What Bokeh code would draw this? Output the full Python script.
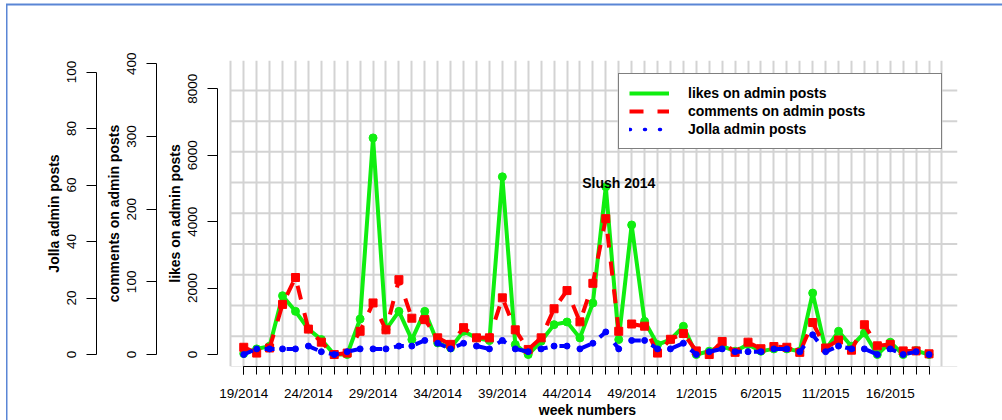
from bokeh.plotting import figure
from bokeh.models import (Range1d, LinearAxis, FixedTicker, Legend, LegendItem, Label)
from bokeh.embed import file_html
from bokeh.resources import INLINE

# ---------------- data ----------------
weeks = ["19/2014", "20/2014", "21/2014", "22/2014", "23/2014", "24/2014", "25/2014", "26/2014",
         "27/2014", "28/2014", "29/2014", "30/2014", "31/2014", "32/2014", "33/2014", "34/2014",
         "35/2014", "36/2014", "37/2014", "38/2014", "39/2014", "40/2014", "41/2014", "42/2014",
         "43/2014", "44/2014", "45/2014", "46/2014", "47/2014", "48/2014", "49/2014", "50/2014",
         "51/2014", "52/2014", "53/2014", "1/2015", "2/2015", "3/2015", "4/2015", "5/2015",
         "6/2015", "7/2015", "8/2015", "9/2015", "10/2015", "11/2015", "12/2015", "13/2015",
         "14/2015", "15/2015", "16/2015", "17/2015", "18/2015", "19/2015"]

likes = [30, 170, 250, 1770, 1300, 770, 450, 0, 0, 1070,
         6520, 750, 1300, 450, 1300, 350, 200, 700, 500, 420,
         5350, 300, 0, 400, 900, 980, 500, 1550, 5050, 450,
         3900, 1000, 300, 450, 850, 0, 100, 250, 100, 300,
         100, 170, 170, 100, 1850, 150, 700, 250, 650, 0,
         370, 0, 120, 0]

comments = [10, 2, 9, 69, 106, 35, 17, 0, 2, 32,
            71, 34, 103, 50, 48, 23, 14, 37, 23, 23,
            78, 34, 7, 23, 63, 88, 45, 98, 187, 32,
            42, 39, 2, 21, 29, 5, 0, 18, 3, 17,
            8, 11, 10, 3, 44, 9, 20, 6, 41, 12,
            14, 5, 5, 1]

posts = [0, 2, 2, 2, 2, 3, 1, 0, 1, 2,
         2, 2, 3, 3, 5, 4, 2, 4, 3, 2,
         5, 2, 1, 2, 3, 3, 2, 4, 8, 2,
         5, 5, 2, 2, 4, 0, 1, 2, 1, 1,
         1, 2, 2, 1, 7, 1, 3, 2, 2, 0,
         2, 0, 1, 0]

tick_labels = ["19/2014", "24/2014", "29/2014", "34/2014", "39/2014", "44/2014",
               "49/2014", "1/2015", "6/2015", "11/2015", "16/2015"]
likes_ticks = [0, 2000, 4000, 6000, 8000]
comments_ticks = [0, 100, 200, 300, 400]
posts_ticks = [0, 20, 40, 60, 80, 100]
series_names = ["likes on admin posts", "comments on admin posts", "Jolla admin posts"]
annotation_text = "Slush 2014"
annotation_week = "48/2014"
annotation_likes = 5150

# ---------------- layout / style ----------------
FONT = "Liberation Sans"
GREEN, RED, BLUE = "#10ee10", "#ff0000", "#0000ff"
GRID = "#d3d3d3"
FRAME_BLUE = "#5a86d5"

idx = list(range(1, len(weeks) + 1))
tick_idx = [weeks.index(t) + 1 for t in tick_labels]

X0, X1 = -1.03, 56.2
p = figure(width=1002, height=420, output_backend="svg", toolbar_location=None,
           x_range=Range1d(X0, X1), y_range=Range1d(-360, 8850),
           min_border_left=217, min_border_right=45, min_border_top=60, min_border_bottom=53)
p.extra_y_ranges = {"comments": Range1d(-16.46, 404.6), "posts": Range1d(-4.235, 104.1),
                    "offscreen": Range1d(1000, 1001)}
p.outline_line_color = None
p.background_fill_color = "white"
p.border_fill_color = None
# white page with a thin blue frame line along the left and top edges
p.styles = {"background-color": "white",
            "box-shadow": "inset 6px 3.5px 0 0 #ffffff, inset 7.5px 5.5px 0 0 " + FRAME_BLUE}

# grid
p.ygrid.visible = False
p.xgrid.ticker = FixedTicker(ticks=list(range(0, 56)))
p.xgrid.grid_line_color = GRID
p.xgrid.grid_line_width = 2
hgrid_vals = [-375, 550, 1475, 2400, 3325, 4250, 5175, 6100, 7025, 7950]
p.segment(x0=[0] * len(hgrid_vals), y0=hgrid_vals, x1=[X1] * len(hgrid_vals), y1=hgrid_vals,
          line_color=GRID, line_width=2, level="underlay")


def style_axis(ax, ticks, bounds, label):
    ax.ticker = FixedTicker(ticks=ticks)
    ax.bounds = bounds
    ax.axis_label = label
    ax.axis_label_text_font = FONT
    ax.axis_label_text_font_size = "14px"
    ax.axis_label_text_font_style = "bold"
    ax.axis_label_text_color = "black"
    ax.axis_label_standoff = 3
    ax.major_label_text_font = FONT
    ax.major_label_text_font_size = "13.5px"
    ax.major_label_text_color = "black"
    ax.major_label_orientation = "parallel"
    ax.major_label_standoff = 10
    ax.major_tick_out = 10
    ax.major_tick_in = 0
    ax.minor_tick_out = 0
    ax.minor_tick_in = 0
    ax.axis_line_color = "black"
    ax.major_tick_line_color = "black"


style_axis(p.yaxis[0], likes_ticks, (0, 8000), series_names[0])


def spacer(gap):
    # an empty, white axis that only reserves horizontal room between two axes
    return LinearAxis(ticker=FixedTicker(ticks=[0]), axis_line_color=None,
                      major_tick_out=gap, major_tick_in=0, minor_tick_out=0, minor_tick_in=0,
                      major_tick_line_color="white", minor_tick_line_color=None,
                      major_label_standoff=0, major_label_text_font_size="1px",
                      major_label_text_color="white")


p.add_layout(spacer(3), "left")
cy = LinearAxis(y_range_name="comments")
style_axis(cy, comments_ticks, (0, 400), series_names[1])
p.add_layout(cy, "left")
p.add_layout(spacer(2), "left")
py = LinearAxis(y_range_name="posts")
style_axis(py, posts_ticks, (0, 100), series_names[2])
p.add_layout(py, "left")

# x axis
xa = p.xaxis[0]
xa.ticker = FixedTicker(ticks=tick_idx, minor_ticks=idx)
xa.major_label_overrides = {i: w for i, w in zip(tick_idx, tick_labels)}
xa.bounds = (1, len(weeks))
xa.axis_label = "week numbers"
xa.axis_label_text_font = FONT
xa.axis_label_text_font_size = "14px"
xa.axis_label_text_font_style = "bold"
xa.axis_label_text_color = "black"
xa.axis_label_standoff = -2
xa.major_label_text_font = FONT
xa.major_label_text_font_size = "13.5px"
xa.major_label_text_color = "black"
xa.major_label_standoff = 11
xa.major_tick_out = 8
xa.major_tick_in = 0
xa.minor_tick_out = 8
xa.minor_tick_in = 0
xa.axis_line_color = "black"
xa.major_tick_line_color = "black"
xa.minor_tick_line_color = "black"

# series
r_likes = p.line(idx, likes, line_color=GREEN, line_width=4)
p.scatter(idx, likes, marker="circle", size=8, fill_color=GREEN, line_color=GREEN)
r_comments = p.line(idx, comments, y_range_name="comments", line_color=RED, line_width=4,
                    line_dash="14 14")
p.scatter(idx, comments, y_range_name="comments", marker="square", size=8,
          fill_color=RED, line_color=RED)
p.line(idx, posts, y_range_name="posts", line_color=BLUE, line_width=4, line_dash="10 12")
p.scatter(idx, posts, y_range_name="posts", marker="circle", size=6,
          fill_color=BLUE, line_color=BLUE)
# dotted legend key for the posts series (drawn outside the visible range)
r_posts_key = p.line(idx, posts, y_range_name="offscreen", line_color=BLUE, line_width=3.5,
                     line_dash="1 14", line_cap="round")

legend = Legend(items=[LegendItem(label=series_names[0], renderers=[r_likes]),
                       LegendItem(label=series_names[1], renderers=[r_comments]),
                       LegendItem(label=series_names[2], renderers=[r_posts_key])],
                location=(401, 217), padding=10, spacing=0, margin=0,
                glyph_width=40, glyph_height=18, label_height=18, label_standoff=19,
                label_width=243,
                label_text_font=FONT, label_text_font_size="14px", label_text_font_style="bold",
                label_text_color="black",
                border_line_color="black", border_line_width=1,
                background_fill_color="white", background_fill_alpha=1)
p.add_layout(legend)

p.add_layout(Label(x=weeks.index(annotation_week) + 1, y=annotation_likes, text=annotation_text,
                   text_align="center", text_baseline="middle", text_font=FONT,
                   text_font_size="14px", text_font_style="bold", text_color="black"))

open("out.html", "w").write(file_html(p, INLINE))
